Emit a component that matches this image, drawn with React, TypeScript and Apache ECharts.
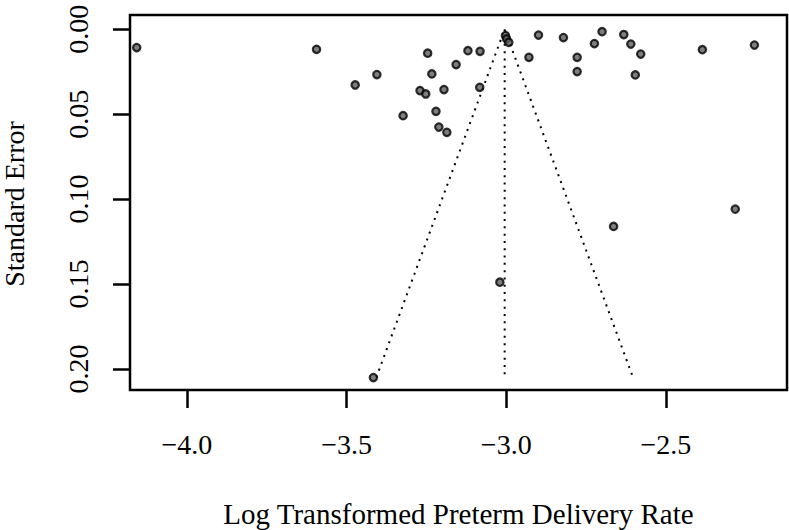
import React, { useEffect, useRef } from "react";
import * as echarts from "echarts";

// Log transformed preterm delivery rate (effect estimate) per study
const estimates = [
  -4.157, -3.594, -3.473, -3.405, -3.246, -3.12, -3.082, -3.157, -3.233, -3.27,
  -3.252, -3.195, -3.083, -3.323, -3.22, -3.211, -3.186, -3.0025, -2.999, -2.992,
  -2.929, -2.899, -2.821, -2.7, -2.724, -2.632, -2.61, -2.579, -2.778, -2.778,
  -2.596, -2.386, -2.223, -2.283, -2.664, -3.02, -3.416,
];
// Standard error per study
const standardErrors = [
  0.0108, 0.0118, 0.0328, 0.0267, 0.0141, 0.0126, 0.013, 0.0208, 0.0263, 0.0361,
  0.0381, 0.0355, 0.0342, 0.0509, 0.0483, 0.0576, 0.0607, 0.0037, 0.0057, 0.0077,
  0.0165, 0.0034, 0.0049, 0.0014, 0.0084, 0.0031, 0.0087, 0.0146, 0.0165, 0.0249,
  0.0269, 0.012, 0.0093, 0.1059, 0.1161, 0.1489, 0.2051,
];
// Pooled estimate and funnel extent
const pooledEstimate = -3.005;
const funnelMaxSE = 0.205;
const zCrit = 1.96;

const xTicks = [-4.0, -3.5, -3.0, -2.5];
const yTicks = [0.0, 0.05, 0.1, 0.15, 0.2];

const xTitle = "Log Transformed Preterm Delivery Rate";
const yTitle = "Standard Error";

const FONT = "'Liberation Serif', 'Times New Roman', serif";

export default function App() {
  const ref = useRef<HTMLDivElement>(null);

  useEffect(() => {
    if (!ref.current) return;
    const chart = echarts.init(ref.current, undefined, { renderer: "svg" });

    const points = estimates.map((x, i) => [x, standardErrors[i]]);
    const funnel = [
      [pooledEstimate - zCrit * funnelMaxSE, funnelMaxSE],
      [pooledEstimate, 0],
      [pooledEstimate + zCrit * funnelMaxSE, funnelMaxSE],
    ];
    const centerLine = [
      [pooledEstimate, 0],
      [pooledEstimate, funnelMaxSE],
    ];

    const dotted = {
      color: "#000",
      width: 2,
      type: [2, 5.3] as number[],
      cap: "butt" as const,
    };

    chart.setOption({
      animation: false,
      backgroundColor: "#fff",
      grid: {
        left: 130,
        right: 2,
        top: 15,
        bottom: 140,
        show: true,
        borderColor: "#000",
        borderWidth: 2.5,
        backgroundColor: "transparent",
      },
      xAxis: {
        type: "value",
        position: "bottom",
        min: -4.178,
        max: -2.121,
        axisLine: { show: false, onZero: false },
        splitLine: { show: false },
        axisTick: {
          show: true,
          customValues: xTicks,
          length: 18,
          lineStyle: { color: "#000", width: 2.5 },
        },
        axisLabel: {
          customValues: xTicks,
          fontFamily: FONT,
          fontSize: 28,
          color: "#000",
          margin: 40,
          formatter: (v: number) => v.toFixed(1).replace("-", "\u2212"),
        },
      },
      yAxis: {
        type: "value",
        position: "left",
        inverse: true,
        min: -0.0084,
        max: 0.2124,
        axisLine: { show: false, onZero: false },
        splitLine: { show: false },
        axisTick: {
          show: true,
          customValues: yTicks,
          length: 17,
          lineStyle: { color: "#000", width: 2.5 },
        },
        axisLabel: {
          customValues: yTicks,
          rotate: 90,
          fontFamily: FONT,
          fontSize: 28,
          color: "#000",
          margin: 38,
          formatter: (v: number) => v.toFixed(2),
        },
      },
      graphic: [
        {
          type: "text",
          x: 458.5,
          y: 514,
          style: {
            text: xTitle,
            fontFamily: FONT,
            fontSize: 29,
            fill: "#000",
            align: "center",
            verticalAlign: "middle",
          },
        },
        {
          type: "text",
          x: 14,
          y: 204,
          rotation: Math.PI / 2,
          style: {
            text: yTitle,
            fontFamily: FONT,
            fontSize: 28,
            fill: "#000",
            align: "center",
            verticalAlign: "middle",
          },
        },
      ],
      series: [
        {
          type: "line",
          data: funnel,
          symbol: "none",
          lineStyle: dotted,
          z: 1,
        },
        {
          type: "line",
          data: centerLine,
          symbol: "none",
          lineStyle: dotted,
          z: 1,
        },
        {
          type: "scatter",
          data: points,
          symbol: "circle",
          symbolSize: 7.4,
          itemStyle: { color: "#5e5e5e", borderColor: "#000", borderWidth: 2.2 },
          z: 3,
        },
      ],
    });

    return () => chart.dispose();
  }, []);

  return (
    <div
      ref={ref}
      style={{ position: "fixed", left: 0, top: 0, width: 789, height: 530 }}
    />
  );
}
